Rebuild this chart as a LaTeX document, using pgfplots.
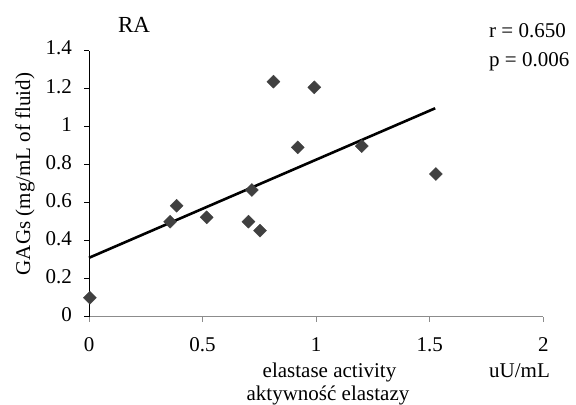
\documentclass[border=0pt]{standalone}
\usepackage{pgfplots}
\pgfplotsset{compat=1.18}
\usepackage{fontspec}
\setmainfont{Liberation Serif}
\definecolor{markgray}{HTML}{404040}
\definecolor{axisgray}{HTML}{8C8C8C}
\begin{document}
\fontsize{21bp}{25bp}\selectfont
\begin{tikzpicture}[x=1bp,y=1bp]
\useasboundingbox (0,0) rectangle (576,404);
\begin{axis}[
  at={(89bp,87.3bp)}, anchor=south west,
  scale only axis, width=454.3bp, height=266bp,
  xmin=0, xmax=2, ymin=0, ymax=1.4,
  axis x line*=bottom, axis y line*=left,
  x axis line style={-, axisgray, line width=1.5bp},
  y axis line style={-, black, line width=1bp},
  xtick={0,0.5,1,1.5,2},
  ytick={0,0.2,0.4,0.6,0.8,1,1.2,1.4},
  tick align=outside,
  major tick length=5bp,
  x tick style={axisgray, line width=1bp},
  y tick style={black, line width=1bp},
  /pgf/number format/assume math mode=true,
  tick label style={font=\fontsize{21bp}{25bp}\selectfont},
  xticklabel style={yshift=-9bp},
  yticklabel style={xshift=-5bp, yshift=2.5bp},
  clip=false,
]
% fitted regression line
\addplot[black, line width=2.6bp] coordinates {(0,0.31) (1.524,1.097)};
% measured samples
\addplot[only marks, mark=square*, mark size=4.6bp,
  mark options={rotate=45, fill=markgray, draw=markgray}]
  coordinates {
  (0.004,0.10) (0.357,0.50) (0.386,0.584) (0.518,0.523)
  (0.702,0.50) (0.717,0.667) (0.753,0.453) (0.812,1.237)
  (0.992,1.207) (0.919,0.891) (1.201,0.898) (1.527,0.751)
  };
\end{axis}
\node[anchor=base, font=\fontsize{23bp}{27bp}\selectfont] at (134,371.7) {RA};
\node[anchor=base west, inner sep=0pt] at (489,366.7) {r = 0.650};
\node[anchor=base west, inner sep=0pt] at (489,337.3) {p = 0.006};
\node[anchor=base, rotate=90, inner sep=0pt] at (30,230) {GAGs (mg/mL of fluid)};
\node[anchor=base, inner sep=0pt] at (329.5,26.7) {elastase activity};
\node[anchor=base, inner sep=0pt] at (328,4) {aktywność elastazy};
\node[anchor=base west, inner sep=0pt] at (489,26.7) {uU/mL};
\end{tikzpicture}
\end{document}
